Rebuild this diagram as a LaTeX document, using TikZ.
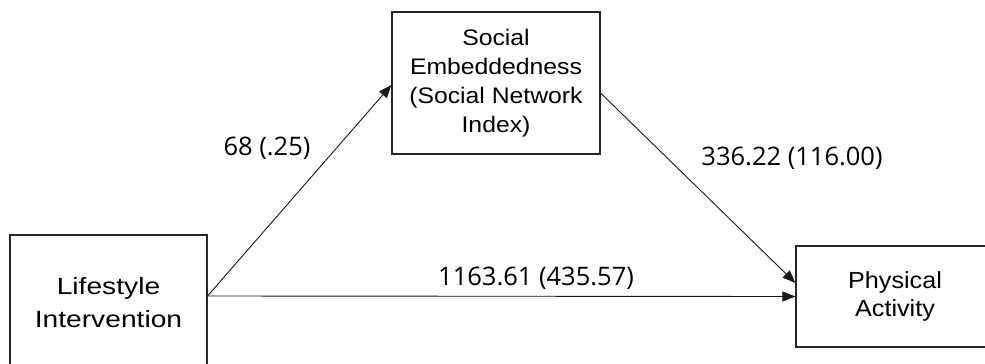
\documentclass[tikz,border=0pt]{standalone}
\usepackage{fontspec}
\setmainfont{Liberation Sans}
\newfontfamily\labfont{Open Sans}
\newfontfamily\fonta[FakeStretch=1.2]{Liberation Sans}
\newfontfamily\fontb[FakeStretch=1.1]{Liberation Sans}
\newfontfamily\fontc[FakeStretch=1.08]{Liberation Sans}
\usetikzlibrary{arrows.meta}
\begin{document}
\begin{tikzpicture}[x=1pt,y=-1pt,
  boxnode/.style={draw=black!85, line width=1.1pt, rectangle, inner sep=0pt, align=center},
  conn/.style={draw=black!90, line width=0.9pt, -{Triangle[length=13pt,width=10pt]}},
  lab/.style={font=\labfont\fontsize{25.5}{29}\selectfont, inner sep=0pt}]
\useasboundingbox (0,0) rectangle (985,364);
\clip (0,0) rectangle (985,364);
\node[boxnode, minimum width=197pt, minimum height=136pt,
      font=\fonta\fontsize{23.5}{33}\selectfont] (life) at (108.5,303) {Lifestyle\\Intervention};
\node[boxnode, minimum width=208pt, minimum height=142pt,
      font=\fontb\fontsize{22.5}{29}\selectfont] (soc) at (496,83) {Social\\Embeddedness\\(Social Network\\Index)};
\node[boxnode, minimum width=198pt, minimum height=101pt,
      font=\fontc\fontsize{23.3}{28}\selectfont] (phys) at (895,296.5) {Physical\\Activity};
\draw[conn] ([yshift=7pt]life.east) -- ([yshift=-2pt]soc.west);
\draw[conn] ([yshift=-10pt]soc.east) -- ([yshift=13.5pt]phys.west);
\draw[conn] ([yshift=7pt]life.east) -- ([yshift=0pt]phys.west);
\node[lab] (l1) at (267,148) {68 (.25)};
\node[lab] (l2) at (792,158) {336.22 (116.00)};
\node[lab, anchor=west] (l3) at (438,278) {1163.61 (435.57)};
\end{tikzpicture}
\end{document}
